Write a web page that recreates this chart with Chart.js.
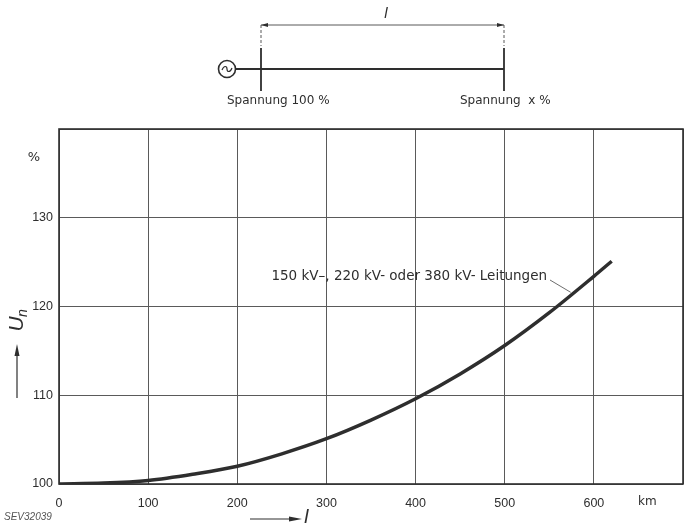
<!DOCTYPE html>
<html>
<head>
<meta charset="utf-8">
<script src="https://cdn.jsdelivr.net/npm/chart.js@4/dist/chart.umd.min.js"></script>
<style>
  html, body { margin: 0; padding: 0; background: #fff; }
  #wrap { width: 687px; height: 523px; position: relative; }
</style>
</head>
<body>
<div id="wrap"><canvas id="chart"></canvas></div>
<script>
'use strict';

/* DATA */
const distanceKm = [0, 50, 100, 150, 200, 250, 300, 350, 400, 450, 500, 550, 600, 620];
const voltagePct = [100, 100.1, 100.4, 101.1, 102.0, 103.4, 105.1, 107.2, 109.6, 112.4, 115.6, 119.3, 123.4, 125.1];
const xTicks = [0, 100, 200, 300, 400, 500, 600];
const yTicks = [100, 110, 120, 130];
const seriesLabel = '150 kV–, 220 kV- oder 380 kV- Leitungen';

const INK = '#2e2e2e';
const GRID = '#5a5a5a';
const FONT = "'Liberation Sans', Arial, sans-serif";
const FONT2 = "'DejaVu Sans', sans-serif";

/* extra drawing: line sketch on top, axis titles, annotation */
const decor = {
  id: 'decor',
  afterDraw(chart) {
    const ctx = chart.ctx;
    const { x, y } = chart.scales;
    const area = chart.chartArea;
    ctx.save();
    ctx.strokeStyle = INK;
    ctx.fillStyle = INK;
    ctx.textBaseline = 'middle';

    // plot frame
    ctx.lineWidth = 1.6;
    ctx.strokeRect(area.left, area.top, area.right - area.left, area.bottom - area.top);

    // --- single-line sketch above the plot ---
    const lineY = 69, a = 261, b = 504;
    ctx.lineWidth = 1.6;
    ctx.beginPath(); ctx.arc(227, lineY, 8.5, 0, Math.PI * 2); ctx.stroke();
    ctx.lineWidth = 1.2;
    ctx.beginPath();
    ctx.moveTo(222, lineY + 1);
    ctx.bezierCurveTo(224, lineY - 4, 227, lineY - 3, 227, lineY);
    ctx.bezierCurveTo(227, lineY + 3, 230, lineY + 4, 232, lineY - 1);
    ctx.stroke();
    ctx.lineWidth = 1.8;
    ctx.beginPath(); ctx.moveTo(235.5, lineY); ctx.lineTo(b, lineY); ctx.stroke();
    ctx.beginPath(); ctx.moveTo(a, 48); ctx.lineTo(a, 91); ctx.moveTo(b, 48); ctx.lineTo(b, 91); ctx.stroke();
    // dimension line
    ctx.lineWidth = 0.8;
    ctx.setLineDash([3, 2]);
    ctx.beginPath(); ctx.moveTo(a, 25); ctx.lineTo(a, 46); ctx.moveTo(b, 25); ctx.lineTo(b, 46); ctx.stroke();
    ctx.setLineDash([]);
    ctx.beginPath(); ctx.moveTo(a, 25); ctx.lineTo(b, 25); ctx.stroke();
    ctx.beginPath();
    ctx.moveTo(a, 25); ctx.lineTo(a + 7, 23); ctx.lineTo(a + 7, 27); ctx.closePath();
    ctx.moveTo(b, 25); ctx.lineTo(b - 7, 23); ctx.lineTo(b - 7, 27); ctx.closePath();
    ctx.fill();
    ctx.font = 'italic 15px ' + FONT;
    ctx.textAlign = 'center';
    ctx.fillText('l', 386, 14);
    ctx.font = '12px ' + FONT2;
    ctx.textAlign = 'left';
    ctx.fillText('Spannung 100 %', 227, 101);
    ctx.fillText('Spannung  x %', 460, 101);

    // --- y axis title ---
    ctx.font = '13px ' + FONT2;
    ctx.textAlign = 'center';
    ctx.fillText('%', 34, 158);
    ctx.save();
    ctx.translate(17, 322);
    ctx.rotate(-Math.PI / 2);
    ctx.font = 'italic 21px ' + FONT;
    ctx.textAlign = 'center';
    ctx.fillText('U', -2, 0);
    ctx.font = 'italic 14px ' + FONT;
    ctx.fillText('n', 9, 6);
    ctx.restore();
    ctx.lineWidth = 1.2;
    ctx.beginPath(); ctx.moveTo(17, 398); ctx.lineTo(17, 350); ctx.stroke();
    ctx.beginPath(); ctx.moveTo(17, 344); ctx.lineTo(14.5, 356); ctx.lineTo(19.5, 356); ctx.closePath(); ctx.fill();

    // --- x axis title ---
    ctx.beginPath(); ctx.moveTo(250, 519); ctx.lineTo(296, 519); ctx.stroke();
    ctx.beginPath(); ctx.moveTo(302, 519); ctx.lineTo(289, 516.5); ctx.lineTo(289, 521.5); ctx.closePath(); ctx.fill();
    ctx.font = 'italic 20px ' + FONT;
    ctx.textAlign = 'left';
    ctx.fillText('l', 304, 518);
    ctx.font = '12px ' + FONT2;
    ctx.fillText('km', 638, 502);
    ctx.font = 'italic 10px ' + FONT;
    ctx.fillStyle = '#555';
    ctx.fillText('SEV32039', 4, 517);

    // --- curve annotation with leader ---
    ctx.fillStyle = INK;
    ctx.font = '13.5px ' + FONT2;
    ctx.textAlign = 'right';
    ctx.fillText(seriesLabel, 547, 276);
    ctx.lineWidth = 0.7;
    ctx.beginPath();
    ctx.moveTo(550, 280);
    ctx.lineTo(x.getPixelForValue(574), y.getPixelForValue(121.6));
    ctx.stroke();
    ctx.restore();
  }
};

new Chart(document.getElementById('chart'), {
  type: 'line',
  data: {
    datasets: [{
      label: seriesLabel,
      data: distanceKm.map((d, i) => ({ x: d, y: voltagePct[i] })),
      borderColor: INK,
      borderWidth: 3.5,
      cubicInterpolationMode: 'monotone',
      pointRadius: 0,
      fill: false
    }]
  },
  options: {
    responsive: true,
    maintainAspectRatio: false,
    animation: false,
    layout: { padding: { top: 129, right: 4, left: 0, bottom: 0 } },
    plugins: { legend: { display: false }, tooltip: { enabled: false } },
    scales: {
      x: {
        type: 'linear',
        min: 0, max: 700,
        afterBuildTicks: s => { s.ticks = xTicks.concat([700]).map(v => ({ value: v })); },
        afterFit: s => { s.height = 39; s.paddingRight = 0; s.paddingLeft = 0; },
        ticks: {
          color: INK,
          padding: 12,
          maxRotation: 0,
          font: { family: FONT, size: 12.5 },
          callback: v => (xTicks.includes(v) ? String(v) : '')
        },
        grid: { color: GRID, lineWidth: 1, drawTicks: false },
        border: { display: false }
      },
      y: {
        min: 100, max: 140,
        afterBuildTicks: s => { s.ticks = yTicks.concat([140]).map(v => ({ value: v })); },
        afterFit: s => { s.width = 59; s.paddingTop = 0; s.paddingBottom = 0; },
        ticks: {
          color: INK,
          padding: 6,
          font: { family: FONT, size: 12.5 },
          callback: v => (yTicks.includes(v) ? String(v) : '')
        },
        grid: { color: GRID, lineWidth: 1, drawTicks: false },
        border: { display: false }
      }
    }
  },
  plugins: [decor]
});
</script>
</body>
</html>
